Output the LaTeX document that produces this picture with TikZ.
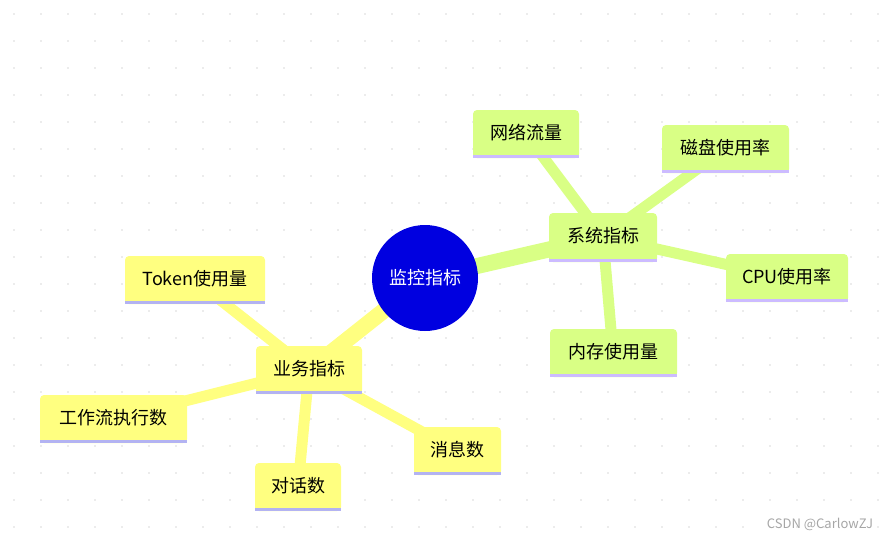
\documentclass[tikz,border=0pt]{standalone}
\usepackage{fontspec}
\setmainfont{Noto Sans CJK SC}
\begin{document}
\begin{tikzpicture}[x=1pt,y=-1pt,
  leaf/.style={minimum height=48pt,inner sep=0pt,font=\fontsize{18}{20}\selectfont,text=black},
  gl/.style={line width=11pt,draw=gfill},
  yl/.style={line width=11pt,draw=yfill}]
\definecolor{gfill}{HTML}{D9FF85}
\definecolor{yfill}{HTML}{FFFF80}
\definecolor{gline}{HTML}{CCBBFF}
\definecolor{yline}{HTML}{B3B3F2}
\definecolor{rootc}{HTML}{0000E0}
\useasboundingbox (0,0) rectangle (889,539);
\foreach \i in {0,...,33} \foreach \j in {0,...,20}
  \fill[black!15] (14+27*\i,14+27*\j) circle (0.9pt);
\coordinate (root) at (425,278);
\coordinate (sys) at (603,237);
\coordinate (net) at (526,134);
\coordinate (disk) at (725,149);
\coordinate (cpu) at (787,278);
\coordinate (mem) at (613,353);
\coordinate (biz) at (309,370);
\coordinate (tok) at (195,280);
\coordinate (wf) at (113,419);
\coordinate (dlg) at (298,487);
\coordinate (msg) at (457,451);
\draw[gl,line width=16pt] (root) -- (sys);
\draw[gl] (sys) -- (net); \draw[gl] (sys) -- (disk);
\draw[gl] (sys) -- (cpu); \draw[gl] (sys) -- (mem);
\draw[yl,line width=16pt] (root) -- (biz);
\draw[yl] (biz) -- (tok); \draw[yl] (biz) -- (wf);
\draw[yl] (biz) -- (dlg); \draw[yl] (biz) -- (msg);
\newcommand\bx[7]{%
  \fill[#6,rounded corners=4pt] (#2,#3) rectangle (#4,#5);
  \fill[#6] (#2,#5-6) rectangle (#4,#5);
  \fill[#7] (#2,#5-3) rectangle (#4,#5);
}
\bx{sys}{549}{213}{657}{262}{gfill}{gline}
\bx{net}{473}{110}{579}{158}{gfill}{gline}
\bx{disk}{662}{125}{789}{173}{gfill}{gline}
\bx{cpu}{726}{254}{848}{302}{gfill}{gline}
\bx{mem}{550}{329}{677}{377}{gfill}{gline}
\bx{biz}{256}{346}{362}{394}{yfill}{yline}
\bx{tok}{125}{256}{265}{304}{yfill}{yline}
\bx{wf}{40}{395}{187}{443}{yfill}{yline}
\bx{dlg}{255}{463}{341}{511}{yfill}{yline}
\bx{msg}{414}{427}{501}{475}{yfill}{yline}
\node[circle,fill=rootc,minimum size=106pt,text=white,font=\fontsize{18}{20}\selectfont] (rootn) at (root) {监控指标};
\node[leaf] (sysn) at (603,236) {系统指标};
\node[leaf] (netn) at (526,133) {网络流量};
\node[leaf] (diskn) at (725,148) {磁盘使用率};
\node[leaf] (cpun) at (787,277) {CPU使用率};
\node[leaf] (memn) at (613,352) {内存使用量};
\node[leaf] (bizn) at (309,369) {业务指标};
\node[leaf] (tokn) at (195,279) {Token使用量};
\node[leaf] (wfn) at (113,418) {工作流执行数};
\node[leaf] (dlgn) at (298,486) {对话数};
\node[leaf] (msgn) at (457,450) {消息数};
\node[text=black!35,font=\fontsize{13}{15}\selectfont] (wm) at (820,524) {CSDN @CarlowZJ};
\end{tikzpicture}
\end{document}
